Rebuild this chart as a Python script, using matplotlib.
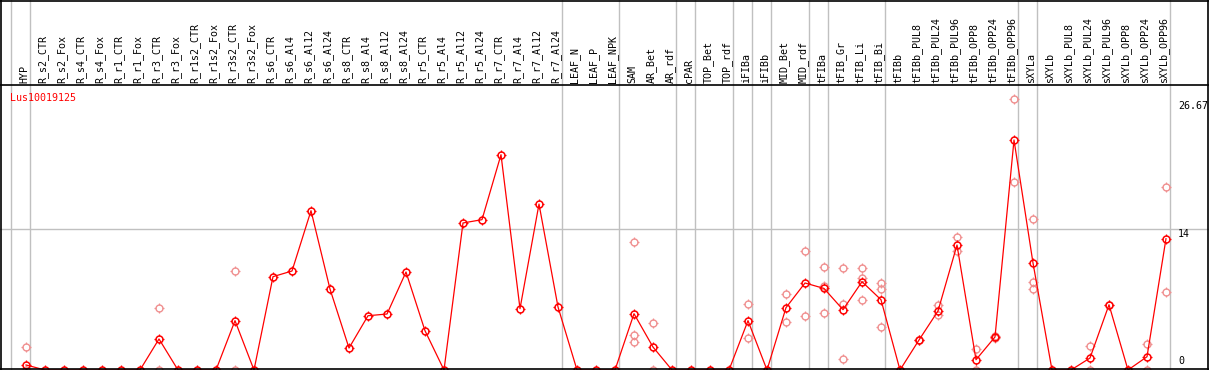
import matplotlib
matplotlib.use("Agg")
import matplotlib.pyplot as plt
from matplotlib.path import Path
import numpy as np

categories = ["HYP", "R_s2_CTR", "R_s2_Fox", "R_s4_CTR", "R_s4_Fox", "R_r1_CTR", "R_r1_Fox",
              "R_r3_CTR", "R_r3_Fox", "R_r1s2_CTR", "R_r1s2_Fox", "R_r3s2_CTR", "R_r3s2_Fox",
              "R_s6_CTR", "R_s6_Al4", "R_s6_Al12", "R_s6_Al24", "R_s8_CTR", "R_s8_Al4",
              "R_s8_Al12", "R_s8_Al24", "R_r5_CTR", "R_r5_Al4", "R_r5_Al12", "R_r5_Al24",
              "R_r7_CTR", "R_r7_Al4", "R_r7_Al12", "R_r7_Al24", "LEAF_N", "LEAF_P", "LEAF_NPK",
              "SAM", "AR_Bet", "AR_rdf", "cPAR", "TOP_Bet", "TOP_rdf", "iFIBa", "iFIBb",
              "MID_Bet", "MID_rdf", "tFIBa", "tFIB_Gr", "tFIB_Li", "tFIB_Bi", "tFIBb",
              "tFIBb_PUL8", "tFIBb_PUL24", "tFIBb_PUL96", "tFIBb_OPP8", "tFIBb_OPP24",
              "tFIBb_OPP96", "sXYLa", "sXYLb", "sXYLb_PUL8", "sXYLb_PUL24", "sXYLb_PUL96",
              "sXYLb_OPP8", "sXYLb_OPP24", "sXYLb_OPP96"]

means = [0.5, 0, 0, 0, 0, 0, 0, 3.08, 0, 0, 0, 4.9, 0,
         9.27, 9.83, 15.82, 8.04, 2.18, 5.39, 5.56, 9.73, 3.9, 0, 14.6, 14.93,
         21.38, 6.09, 16.48, 6.26, 0, 0, 0,
         5.59, 2.28, 0, 0, 0, 0, 4.9, 0, 6.19, 8.64, 8.1, 5.99, 8.77, 6.98, 0,
         2.98, 5.86, 12.41, 1.02, 3.28, 22.84, 10.63, 0, 0, 1.19, 6.48, 0, 1.32, 13.04]

# replicate values: (category index, value)
rep_idx = [0, 0, 7, 7, 11, 11, 32, 32, 32, 33, 33, 38, 38, 40, 40, 41, 41,
           42, 42, 42, 43, 43, 43, 44, 44, 44, 45, 45, 45, 47, 47, 48, 48, 49, 49,
           50, 50, 51, 51, 52, 52, 53, 53, 53, 56, 56, 57, 59, 59, 60, 60]
rep_val = [2.28, 0, 6.16, 0, 9.83, 0, 12.74, 3.5, 2.81, 4.67, 0, 6.55, 3.18, 7.58, 4.8,
           11.85, 5.39, 10.26, 8.3, 5.69, 10.16, 6.51, 1.12, 10.16, 9.1, 6.95,
           8.67, 8.04, 4.3, 3.0, 2.95, 6.45, 5.46, 13.2, 11.8, 2.08, 0, 3.2, 3.4,
           26.9, 18.67, 15.02, 8.77, 8.07, 2.38, 0, 6.48, 2.61, 0, 18.17, 7.75]

separators = [-1, 0, 28, 31, 34, 35, 37, 38, 39, 41, 42, 45, 52, 53, 60]
gene = "Lus10019125"
ymax_label = 26.67
ymid_label = 14

W, H = 1209, 370
fig = plt.figure(figsize=(W / 100, H / 100), dpi=100)

# pixel geometry
x0_px, dx_px = 26.0, 19.0
header_px = 85.0
px_per_unit = 10.07

xlim = ((0 - x0_px) / dx_px, (W - x0_px) / dx_px)
plot_h = H - header_px
ylim = (0, plot_h / px_per_unit)

ax = fig.add_axes([0, 0, 1, plot_h / H])
hx = fig.add_axes([0, plot_h / H, 1, header_px / H])
for a in (ax, hx):
    a.set_xlim(*xlim)
    a.set_xticks([])
    a.set_yticks([])
    for s in a.spines.values():
        s.set_visible(False)
ax.set_ylim(*ylim)
hx.set_ylim(0, 1)

gray = "#c0c0c0"
sep_off = 4.0 / dx_px
for s in separators:
    ax.axvline(s + sep_off, color=gray, lw=1.0, zorder=1)
    hx.axvline(s + sep_off, color=gray, lw=1.0, zorder=1)
ax.axhline(ymid_label, color=gray, lw=1.0, zorder=1)

# frame lines
for xs_, ys_ in [([1.0 / W, 1.0 / W], [0, 1]),
                 ([(W - 1.0) / W, (W - 1.0) / W], [0, 1]),
                 ([0, 1], [1 - 0.6 / H, 1 - 0.6 / H]),
                 ([0, 1], [plot_h / H, plot_h / H]),
                 ([0, 1], [1.0 / H, 1.0 / H])]:
    fig.add_artist(plt.Line2D(xs_, ys_, color="black", lw=1.2, transform=fig.transFigure))

font = dict(family="DejaVu Sans Mono", size=7.2)

# header labels
for i, c in enumerate(categories):
    hx.text(i - 2.0 / dx_px, 2.0 / header_px, c, rotation=90, ha="center", va="bottom",
            color="black", **font)

tick_path = Path([(0, 0.62), (0, 1), (0, -0.62), (0, -1), (0.62, 0), (1, 0), (-0.62, 0), (-1, 0)],
                 [Path.MOVETO, Path.LINETO] * 4)

xs = np.arange(len(categories))
pink = "#f09090"
ax.plot(rep_idx, rep_val, ls="none", marker="o", ms=5.0, mfc="none", mec=pink, mew=1.0, zorder=2)
ax.plot(rep_idx, rep_val, ls="none", marker=tick_path, ms=6.8, mec=pink, mew=0.9, zorder=2)
ax.plot(xs, means, color="red", lw=0.9, zorder=3)
ax.plot(xs, means, ls="none", marker="o", ms=5.0, mfc="none", mec="red", mew=1.1, zorder=4)
ax.plot(xs, means, ls="none", marker=tick_path, ms=6.8, mec="red", mew=0.9, zorder=4)

ax.text(10.0 / W, 1 - 8.0 / plot_h, gene, transform=ax.transAxes, color="red",
        ha="left", va="top", **font)

lx = (1178 - x0_px) / dx_px
ax.text(lx, ymax_label, f"{ymax_label:.2f}", ha="left", va="top", color="black", **font)
ax.text(lx, ymid_label, f"{ymid_label}", ha="left", va="top", color="black", **font)
ax.text(lx, 0.4, "0", ha="left", va="bottom", color="black", **font)

fig.savefig("out.png", dpi=100)
